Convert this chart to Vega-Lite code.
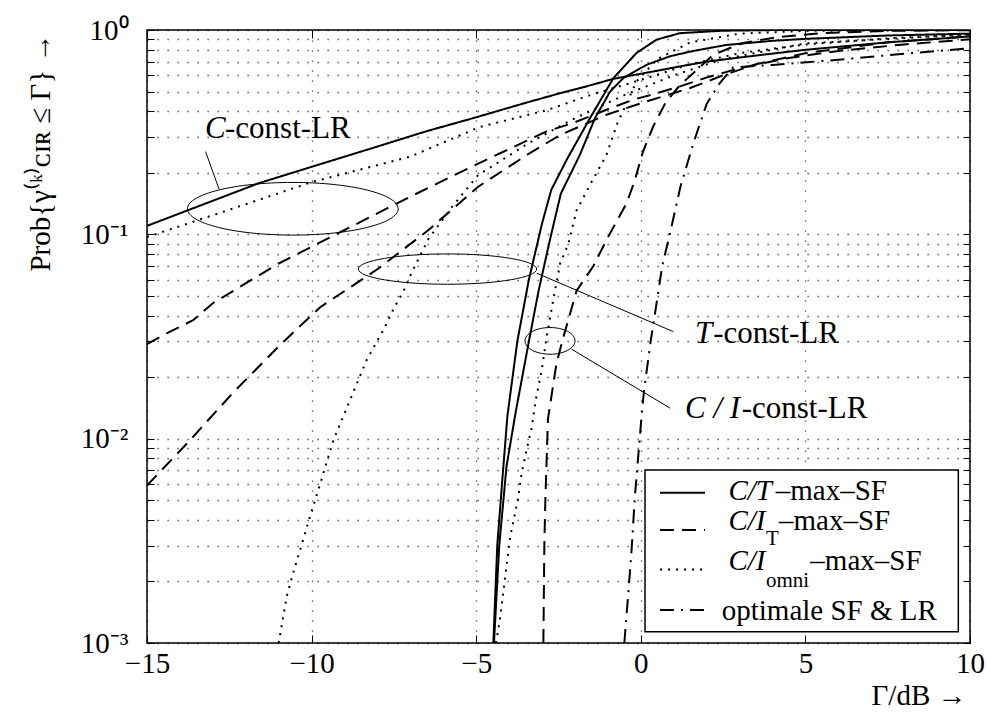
{
  "$schema": "https://vega.github.io/schema/vega-lite/v6.json",
  "width": 823,
  "height": 613,
  "autosize": {"type": "none"},
  "padding": {"left": 147, "top": 30, "right": 18, "bottom": 75},
  "background": "white",
  "config": {
    "view": {"stroke": "black", "strokeWidth": 1.5},
    "font": "Liberation Serif"
  },
  "resolve": {"axis": {"x": "independent", "y": "independent"}},
  "datasets": {
    "curves": [
      {"c": "S1", "sf": "C/T", "x": -15, "y": 0.110}, {"c": "S1", "sf": "C/T", "x": -13, "y": 0.146}, {"c": "S1", "sf": "C/T", "x": -11.6, "y": 0.178}, {"c": "S1", "sf": "C/T", "x": -10, "y": 0.214}, {"c": "S1", "sf": "C/T", "x": -8, "y": 0.269}, {"c": "S1", "sf": "C/T", "x": -6.5, "y": 0.32}, {"c": "S1", "sf": "C/T", "x": -5.1, "y": 0.37}, {"c": "S1", "sf": "C/T", "x": -3.5, "y": 0.44}, {"c": "S1", "sf": "C/T", "x": -2.5, "y": 0.488}, {"c": "S1", "sf": "C/T", "x": -1.5, "y": 0.538}, {"c": "S1", "sf": "C/T", "x": -0.83, "y": 0.577}, {"c": "S1", "sf": "C/T", "x": 0.5, "y": 0.632}, {"c": "S1", "sf": "C/T", "x": 1.2, "y": 0.664}, {"c": "S1", "sf": "C/T", "x": 2.0, "y": 0.70}, {"c": "S1", "sf": "C/T", "x": 3.5, "y": 0.75}, {"c": "S1", "sf": "C/T", "x": 5.0, "y": 0.80}, {"c": "S1", "sf": "C/T", "x": 7.5, "y": 0.87}, {"c": "S1", "sf": "C/T", "x": 10, "y": 0.93},
      {"c": "S2", "sf": "C/T", "x": -4.48, "y": 0.001}, {"c": "S2", "sf": "C/T", "x": -4.36, "y": 0.003}, {"c": "S2", "sf": "C/T", "x": -4.2, "y": 0.0065}, {"c": "S2", "sf": "C/T", "x": -4.05, "y": 0.013}, {"c": "S2", "sf": "C/T", "x": -3.75, "y": 0.03}, {"c": "S2", "sf": "C/T", "x": -3.4, "y": 0.06}, {"c": "S2", "sf": "C/T", "x": -3.0, "y": 0.113}, {"c": "S2", "sf": "C/T", "x": -2.72, "y": 0.165}, {"c": "S2", "sf": "C/T", "x": -2.25, "y": 0.232}, {"c": "S2", "sf": "C/T", "x": -1.54, "y": 0.371}, {"c": "S2", "sf": "C/T", "x": -0.83, "y": 0.582}, {"c": "S2", "sf": "C/T", "x": -0.13, "y": 0.772}, {"c": "S2", "sf": "C/T", "x": 0.48, "y": 0.897}, {"c": "S2", "sf": "C/T", "x": 1.19, "y": 0.965}, {"c": "S2", "sf": "C/T", "x": 2.5, "y": 0.992}, {"c": "S2", "sf": "C/T", "x": 4, "y": 0.999}, {"c": "S2", "sf": "C/T", "x": 10, "y": 1.0},
      {"c": "S3", "sf": "C/T", "x": -4.46, "y": 0.001}, {"c": "S3", "sf": "C/T", "x": -4.3, "y": 0.003}, {"c": "S3", "sf": "C/T", "x": -4.08, "y": 0.0073}, {"c": "S3", "sf": "C/T", "x": -3.8, "y": 0.0135}, {"c": "S3", "sf": "C/T", "x": -3.39, "y": 0.0305}, {"c": "S3", "sf": "C/T", "x": -3.1, "y": 0.0534}, {"c": "S3", "sf": "C/T", "x": -2.76, "y": 0.094}, {"c": "S3", "sf": "C/T", "x": -2.43, "y": 0.158}, {"c": "S3", "sf": "C/T", "x": -1.85, "y": 0.245}, {"c": "S3", "sf": "C/T", "x": -1.39, "y": 0.371}, {"c": "S3", "sf": "C/T", "x": -0.93, "y": 0.50}, {"c": "S3", "sf": "C/T", "x": -0.53, "y": 0.582}, {"c": "S3", "sf": "C/T", "x": 0.18, "y": 0.676}, {"c": "S3", "sf": "C/T", "x": 0.9, "y": 0.745}, {"c": "S3", "sf": "C/T", "x": 1.6, "y": 0.79}, {"c": "S3", "sf": "C/T", "x": 2.6, "y": 0.845}, {"c": "S3", "sf": "C/T", "x": 4, "y": 0.885}, {"c": "S3", "sf": "C/T", "x": 5, "y": 0.905}, {"c": "S3", "sf": "C/T", "x": 7.5, "y": 0.94}, {"c": "S3", "sf": "C/T", "x": 10, "y": 0.96},
      {"c": "D1", "sf": "C/I_omni", "x": -15, "y": 0.097}, {"c": "D1", "sf": "C/I_omni", "x": -13, "y": 0.124}, {"c": "D1", "sf": "C/I_omni", "x": -10, "y": 0.18}, {"c": "D1", "sf": "C/I_omni", "x": -7, "y": 0.24}, {"c": "D1", "sf": "C/I_omni", "x": -4.9, "y": 0.335}, {"c": "D1", "sf": "C/I_omni", "x": -2.86, "y": 0.405}, {"c": "D1", "sf": "C/I_omni", "x": -1.54, "y": 0.48}, {"c": "D1", "sf": "C/I_omni", "x": 0, "y": 0.57}, {"c": "D1", "sf": "C/I_omni", "x": 1.5, "y": 0.68}, {"c": "D1", "sf": "C/I_omni", "x": 3, "y": 0.77}, {"c": "D1", "sf": "C/I_omni", "x": 5, "y": 0.85}, {"c": "D1", "sf": "C/I_omni", "x": 7.5, "y": 0.91}, {"c": "D1", "sf": "C/I_omni", "x": 10, "y": 0.95},
      {"c": "D2", "sf": "C/I_omni", "x": -11.0, "y": 0.001}, {"c": "D2", "sf": "C/I_omni", "x": -10.76, "y": 0.00168}, {"c": "D2", "sf": "C/I_omni", "x": -10.56, "y": 0.0022}, {"c": "D2", "sf": "C/I_omni", "x": -10.35, "y": 0.00285}, {"c": "D2", "sf": "C/I_omni", "x": -10.05, "y": 0.00415}, {"c": "D2", "sf": "C/I_omni", "x": -9.74, "y": 0.006}, {"c": "D2", "sf": "C/I_omni", "x": -9.34, "y": 0.0098}, {"c": "D2", "sf": "C/I_omni", "x": -8.83, "y": 0.0155}, {"c": "D2", "sf": "C/I_omni", "x": -8.33, "y": 0.0242}, {"c": "D2", "sf": "C/I_omni", "x": -7.82, "y": 0.034}, {"c": "D2", "sf": "C/I_omni", "x": -7.5, "y": 0.0435}, {"c": "D2", "sf": "C/I_omni", "x": -7.2, "y": 0.053}, {"c": "D2", "sf": "C/I_omni", "x": -6.96, "y": 0.065}, {"c": "D2", "sf": "C/I_omni", "x": -6.45, "y": 0.095}, {"c": "D2", "sf": "C/I_omni", "x": -5.74, "y": 0.136}, {"c": "D2", "sf": "C/I_omni", "x": -4.94, "y": 0.195}, {"c": "D2", "sf": "C/I_omni", "x": -3.4, "y": 0.28}, {"c": "D2", "sf": "C/I_omni", "x": -2, "y": 0.37}, {"c": "D2", "sf": "C/I_omni", "x": -0.5, "y": 0.48}, {"c": "D2", "sf": "C/I_omni", "x": 1, "y": 0.6}, {"c": "D2", "sf": "C/I_omni", "x": 2.5, "y": 0.72}, {"c": "D2", "sf": "C/I_omni", "x": 5, "y": 0.86}, {"c": "D2", "sf": "C/I_omni", "x": 10, "y": 0.95},
      {"c": "D3", "sf": "C/I_omni", "x": -4.4, "y": 0.001}, {"c": "D3", "sf": "C/I_omni", "x": -4.28, "y": 0.0013}, {"c": "D3", "sf": "C/I_omni", "x": -4.18, "y": 0.00175}, {"c": "D3", "sf": "C/I_omni", "x": -4.07, "y": 0.00245}, {"c": "D3", "sf": "C/I_omni", "x": -3.97, "y": 0.0033}, {"c": "D3", "sf": "C/I_omni", "x": -3.82, "y": 0.0043}, {"c": "D3", "sf": "C/I_omni", "x": -3.72, "y": 0.0052}, {"c": "D3", "sf": "C/I_omni", "x": -3.62, "y": 0.0068}, {"c": "D3", "sf": "C/I_omni", "x": -3.47, "y": 0.0088}, {"c": "D3", "sf": "C/I_omni", "x": -3.31, "y": 0.0114}, {"c": "D3", "sf": "C/I_omni", "x": -3.19, "y": 0.0155}, {"c": "D3", "sf": "C/I_omni", "x": -3.01, "y": 0.0217}, {"c": "D3", "sf": "C/I_omni", "x": -2.86, "y": 0.0315}, {"c": "D3", "sf": "C/I_omni", "x": -2.66, "y": 0.0477}, {"c": "D3", "sf": "C/I_omni", "x": -2.45, "y": 0.072}, {"c": "D3", "sf": "C/I_omni", "x": -2.2, "y": 0.09}, {"c": "D3", "sf": "C/I_omni", "x": -1.95, "y": 0.131}, {"c": "D3", "sf": "C/I_omni", "x": -1.54, "y": 0.175}, {"c": "D3", "sf": "C/I_omni", "x": -1.04, "y": 0.245}, {"c": "D3", "sf": "C/I_omni", "x": -0.73, "y": 0.344}, {"c": "D3", "sf": "C/I_omni", "x": -0.13, "y": 0.56}, {"c": "D3", "sf": "C/I_omni", "x": 0.5, "y": 0.72}, {"c": "D3", "sf": "C/I_omni", "x": 1.5, "y": 0.87}, {"c": "D3", "sf": "C/I_omni", "x": 3, "y": 0.96}, {"c": "D3", "sf": "C/I_omni", "x": 5, "y": 0.99}, {"c": "D3", "sf": "C/I_omni", "x": 10, "y": 1.0},
      {"c": "H1", "sf": "C/I_T", "x": -15, "y": 0.029}, {"c": "H1", "sf": "C/I_T", "x": -14.3, "y": 0.0334}, {"c": "H1", "sf": "C/I_T", "x": -13.6, "y": 0.038}, {"c": "H1", "sf": "C/I_T", "x": -13.0, "y": 0.046}, {"c": "H1", "sf": "C/I_T", "x": -11.0, "y": 0.072}, {"c": "H1", "sf": "C/I_T", "x": -9.0, "y": 0.105}, {"c": "H1", "sf": "C/I_T", "x": -7.0, "y": 0.153}, {"c": "H1", "sf": "C/I_T", "x": -4.94, "y": 0.222}, {"c": "H1", "sf": "C/I_T", "x": -2.86, "y": 0.319}, {"c": "H1", "sf": "C/I_T", "x": -2.05, "y": 0.351}, {"c": "H1", "sf": "C/I_T", "x": -1.04, "y": 0.407}, {"c": "H1", "sf": "C/I_T", "x": -0.23, "y": 0.456}, {"c": "H1", "sf": "C/I_T", "x": 0.48, "y": 0.49}, {"c": "H1", "sf": "C/I_T", "x": 1.19, "y": 0.53}, {"c": "H1", "sf": "C/I_T", "x": 2, "y": 0.585}, {"c": "H1", "sf": "C/I_T", "x": 3, "y": 0.65}, {"c": "H1", "sf": "C/I_T", "x": 4.5, "y": 0.73}, {"c": "H1", "sf": "C/I_T", "x": 6, "y": 0.79}, {"c": "H1", "sf": "C/I_T", "x": 8, "y": 0.85}, {"c": "H1", "sf": "C/I_T", "x": 10, "y": 0.9},
      {"c": "H2", "sf": "C/I_T", "x": -15, "y": 0.0059}, {"c": "H2", "sf": "C/I_T", "x": -13.7, "y": 0.0098}, {"c": "H2", "sf": "C/I_T", "x": -12.4, "y": 0.0167}, {"c": "H2", "sf": "C/I_T", "x": -10.96, "y": 0.0287}, {"c": "H2", "sf": "C/I_T", "x": -9.74, "y": 0.044}, {"c": "H2", "sf": "C/I_T", "x": -7.97, "y": 0.068}, {"c": "H2", "sf": "C/I_T", "x": -6.45, "y": 0.105}, {"c": "H2", "sf": "C/I_T", "x": -4.94, "y": 0.171}, {"c": "H2", "sf": "C/I_T", "x": -3.37, "y": 0.25}, {"c": "H2", "sf": "C/I_T", "x": -2.45, "y": 0.306}, {"c": "H2", "sf": "C/I_T", "x": -1.04, "y": 0.385}, {"c": "H2", "sf": "C/I_T", "x": -0.13, "y": 0.431}, {"c": "H2", "sf": "C/I_T", "x": 0.68, "y": 0.474}, {"c": "H2", "sf": "C/I_T", "x": 1.5, "y": 0.52}, {"c": "H2", "sf": "C/I_T", "x": 2.5, "y": 0.6}, {"c": "H2", "sf": "C/I_T", "x": 3.5, "y": 0.68}, {"c": "H2", "sf": "C/I_T", "x": 5, "y": 0.77}, {"c": "H2", "sf": "C/I_T", "x": 7.5, "y": 0.87}, {"c": "H2", "sf": "C/I_T", "x": 10, "y": 0.93},
      {"c": "H3", "sf": "C/I_T", "x": -2.96, "y": 0.001}, {"c": "H3", "sf": "C/I_T", "x": -2.93, "y": 0.003}, {"c": "H3", "sf": "C/I_T", "x": -2.9, "y": 0.005}, {"c": "H3", "sf": "C/I_T", "x": -2.82, "y": 0.0125}, {"c": "H3", "sf": "C/I_T", "x": -2.56, "y": 0.0234}, {"c": "H3", "sf": "C/I_T", "x": -2.35, "y": 0.0315}, {"c": "H3", "sf": "C/I_T", "x": -1.95, "y": 0.053}, {"c": "H3", "sf": "C/I_T", "x": -1.44, "y": 0.07}, {"c": "H3", "sf": "C/I_T", "x": -1.04, "y": 0.094}, {"c": "H3", "sf": "C/I_T", "x": -0.43, "y": 0.142}, {"c": "H3", "sf": "C/I_T", "x": -0.2, "y": 0.18}, {"c": "H3", "sf": "C/I_T", "x": 0.07, "y": 0.255}, {"c": "H3", "sf": "C/I_T", "x": 0.38, "y": 0.338}, {"c": "H3", "sf": "C/I_T", "x": 0.75, "y": 0.44}, {"c": "H3", "sf": "C/I_T", "x": 1.2, "y": 0.54}, {"c": "H3", "sf": "C/I_T", "x": 1.6, "y": 0.616}, {"c": "H3", "sf": "C/I_T", "x": 2.2, "y": 0.757}, {"c": "H3", "sf": "C/I_T", "x": 3.1, "y": 0.864}, {"c": "H3", "sf": "C/I_T", "x": 4.1, "y": 0.92}, {"c": "H3", "sf": "C/I_T", "x": 5.5, "y": 0.965}, {"c": "H3", "sf": "C/I_T", "x": 7.5, "y": 0.99}, {"c": "H3", "sf": "C/I_T", "x": 10, "y": 0.998},
      {"c": "O", "sf": "opt", "x": -0.5, "y": 0.001}, {"c": "O", "sf": "opt", "x": -0.38, "y": 0.00175}, {"c": "O", "sf": "opt", "x": -0.28, "y": 0.00285}, {"c": "O", "sf": "opt", "x": -0.18, "y": 0.0052}, {"c": "O", "sf": "opt", "x": -0.07, "y": 0.0085}, {"c": "O", "sf": "opt", "x": 0.03, "y": 0.0133}, {"c": "O", "sf": "opt", "x": 0.1, "y": 0.0173}, {"c": "O", "sf": "opt", "x": 0.3, "y": 0.030}, {"c": "O", "sf": "opt", "x": 0.47, "y": 0.045}, {"c": "O", "sf": "opt", "x": 0.65, "y": 0.07}, {"c": "O", "sf": "opt", "x": 0.88, "y": 0.1}, {"c": "O", "sf": "opt", "x": 1.2, "y": 0.17}, {"c": "O", "sf": "opt", "x": 1.6, "y": 0.28}, {"c": "O", "sf": "opt", "x": 2.0, "y": 0.435}, {"c": "O", "sf": "opt", "x": 2.4, "y": 0.55}, {"c": "O", "sf": "opt", "x": 2.8, "y": 0.655}, {"c": "O", "sf": "opt", "x": 4, "y": 0.675}, {"c": "O", "sf": "opt", "x": 6, "y": 0.715}, {"c": "O", "sf": "opt", "x": 8, "y": 0.765}, {"c": "O", "sf": "opt", "x": 10, "y": 0.814}
    ],
    "leaders": [
      {"x": -12.81, "y": 0.166, "x2": -13.22, "y2": 0.254},
      {"x": -3.16, "y": 0.0645, "x2": 0.99, "y2": 0.0334},
      {"x": -2.1, "y": 0.0274, "x2": 0.89, "y2": 0.0141}
    ],
    "annItalic": [
      {"x": -13.238, "y": 0.295, "t": "C"},
      {"x": 1.646, "y": 0.02927, "t": "T"},
      {"x": 1.343, "y": 0.01261, "t": "C / I"}
    ],
    "annRoman": [
      {"x": -12.631, "y": 0.295, "t": "-const-LR"},
      {"x": 2.2, "y": 0.02927, "t": "-const-LR"},
      {"x": 3.065, "y": 0.01261, "t": "-const-LR"}
    ],
    "legBox": [{"x": 0.128, "x2": 9.645, "y": 0.001135, "y2": 0.00702}],
    "legLines": [
      {"sf": "C/T", "x": 0.583, "x2": 1.95, "y": 0.00543},
      {"sf": "C/I_T", "x": 0.583, "x2": 1.95, "y": 0.003571},
      {"sf": "C/I_omni", "x": 0.583, "x2": 1.95, "y": 0.002291},
      {"sf": "opt", "x": 0.583, "x2": 1.95, "y": 0.001449}
    ],
    "legItalic": [
      {"x": 2.662, "y": 0.005005, "t": "C/T"},
      {"x": 2.662, "y": 0.003571, "t": "C/I"},
      {"x": 2.662, "y": 0.002275, "t": "C/I"}
    ],
    "legRoman": [
      {"x": 4.1, "y": 0.005005, "t": "–max–SF"},
      {"x": 4.2, "y": 0.003571, "t": "–max–SF"},
      {"x": 5.15, "y": 0.002275, "t": "–max–SF"},
      {"x": 2.458, "y": 0.001294, "t": "optimale SF & LR"}
    ],
    "legSub": [
      {"x": 3.8, "y": 0.003013, "t": "T"},
      {"x": 3.8, "y": 0.001884, "t": "omni"}
    ]
  },
  "layer": [
    {
      "data": {"name": "curves"},
      "mark": {"type": "line", "color": "black", "strokeWidth": 2, "clip": true},
      "encoding": {
        "x": {
          "field": "x", "type": "quantitative",
          "scale": {"domain": [-15, 10], "nice": false, "zero": false},
          "axis": {
            "values": [-15, -10, -5, 0, 5, 10],
            "grid": true, "gridDash": [1.3, 8.7], "gridColor": "#000", "gridOpacity": 0.75, "gridWidth": 1.3,
            "domain": false,
            "ticks": true, "tickSize": -8, "tickColor": "black", "tickWidth": 1,
            "labelFlush": false,
            "labelFont": "Liberation Serif", "labelFontSize": 29, "labelColor": "black", "labelPadding": 14,
            "title": "Γ/dB →", "titleFont": "Liberation Serif", "titleFontSize": 29, "titleFontWeight": "normal", "titleColor": "black",
            "titleX": 819, "titleY": 52, "titleAlign": "right", "titleBaseline": "middle", "titleAnchor": "end"
          }
        },
        "y": {
          "field": "y", "type": "quantitative",
          "scale": {"type": "log", "domain": [0.001, 1], "nice": false},
          "axis": {
            "values": [0.001, 0.002, 0.003, 0.004, 0.005, 0.006, 0.007, 0.008, 0.009, 0.01, 0.02, 0.03, 0.04, 0.05, 0.06, 0.07, 0.08, 0.09, 0.1, 0.2, 0.3, 0.4, 0.5, 0.6, 0.7, 0.8, 0.9, 1],
            "labelExpr": "datum.value == 1 ? '10⁰' : datum.value == 0.1 ? '10⁻¹' : datum.value == 0.01 ? '10⁻²' : datum.value == 0.001 ? '10⁻³' : ''",
            "grid": true, "gridDash": [1.3, 8.7], "gridColor": "#000", "gridOpacity": 0.75, "gridWidth": 1.3,
            "domain": false,
            "ticks": true, "tickSize": -7, "tickColor": "black", "tickWidth": 1,
            "labelFlush": false,
            "labelFont": "Liberation Serif", "labelFontSize": 29, "labelColor": "black", "labelPadding": 26,
            "labelOverlap": false,
            "title": "Prob{γ⁽ᵏ⁾ᴄɪʀ ≤ Γ} →", "titleFont": "Liberation Serif", "titleFontSize": 29, "titleFontWeight": "normal", "titleColor": "black",
            "titleX": -107, "titleY": 3, "titleAngle": 270, "titleAlign": "right", "titleBaseline": "middle"
          }
        },
        "detail": {"field": "c"},
        "strokeDash": {
          "field": "sf", "type": "nominal", "legend": null,
          "scale": {"domain": ["C/T", "C/I_T", "C/I_omni", "opt"], "range": [[1, 0], [14, 8], [2, 6], [14, 7, 2, 7]]}
        }
      }
    },
    {
      "data": {"values": [{"x": -10.57, "y": 0.1334}]},
      "mark": {"type": "point", "shape": "M-1,0A1,0.25,0,1,0,1,0A1,0.25,0,1,0,-1,0", "size": 44394, "filled": false, "stroke": "black", "strokeWidth": 1, "opacity": 1},
      "encoding": {
        "x": {"field": "x", "type": "quantitative", "axis": {"orient": "top", "values": [-15, -10, -5, 0, 5, 10], "labels": false, "grid": false, "domain": false, "ticks": true, "tickSize": -8, "tickColor": "black", "title": null}},
        "y": {"field": "y", "type": "quantitative", "axis": {"orient": "right", "values": [0.001, 0.002, 0.003, 0.004, 0.005, 0.006, 0.007, 0.008, 0.009, 0.01, 0.02, 0.03, 0.04, 0.05, 0.06, 0.07, 0.08, 0.09, 0.1, 0.2, 0.3, 0.4, 0.5, 0.6, 0.7, 0.8, 0.9, 1], "labels": false, "grid": false, "domain": false, "ticks": true, "tickSize": -7, "tickColor": "black", "title": null}}
      }
    },
    {
      "data": {"values": [{"x": -5.872, "y": 0.0676}]},
      "mark": {"type": "point", "shape": "M-1,0A1,0.17,0,1,0,1,0A1,0.17,0,1,0,-1,0", "size": 31791, "filled": false, "stroke": "black", "strokeWidth": 1, "opacity": 1},
      "encoding": {
        "x": {"field": "x", "type": "quantitative", "axis": null},
        "y": {"field": "y", "type": "quantitative", "axis": null}
      }
    },
    {
      "data": {"values": [{"x": -2.758, "y": 0.0301}]},
      "mark": {"type": "point", "shape": "M-1,0A1,0.534,0,1,0,1,0A1,0.534,0,1,0,-1,0", "size": 2500, "filled": false, "stroke": "black", "strokeWidth": 1, "opacity": 1},
      "encoding": {
        "x": {"field": "x", "type": "quantitative", "axis": null},
        "y": {"field": "y", "type": "quantitative", "axis": null}
      }
    },
    {
      "data": {"name": "leaders"},
      "mark": {"type": "rule", "color": "black", "strokeWidth": 1},
      "encoding": {
        "x": {"field": "x", "type": "quantitative", "axis": null},
        "y": {"field": "y", "type": "quantitative", "axis": null},
        "x2": {"field": "x2"},
        "y2": {"field": "y2"}
      }
    },
    {
      "data": {"name": "annItalic"},
      "mark": {"type": "text", "font": "Liberation Serif", "fontStyle": "italic", "fontSize": 31, "align": "left", "baseline": "alphabetic", "color": "black"},
      "encoding": {
        "x": {"field": "x", "type": "quantitative", "axis": null},
        "y": {"field": "y", "type": "quantitative", "axis": null},
        "text": {"field": "t"}
      }
    },
    {
      "data": {"name": "annRoman"},
      "mark": {"type": "text", "font": "Liberation Serif", "fontSize": 31, "align": "left", "baseline": "alphabetic", "color": "black"},
      "encoding": {
        "x": {"field": "x", "type": "quantitative", "axis": null},
        "y": {"field": "y", "type": "quantitative", "axis": null},
        "text": {"field": "t"}
      }
    },
    {
      "data": {"name": "legBox"},
      "mark": {"type": "rect", "fill": "white", "stroke": "black", "strokeWidth": 1.5},
      "encoding": {
        "x": {"field": "x", "type": "quantitative", "axis": null},
        "x2": {"field": "x2"},
        "y": {"field": "y", "type": "quantitative", "axis": null},
        "y2": {"field": "y2"}
      }
    },
    {
      "data": {"name": "legLines"},
      "mark": {"type": "rule", "color": "black", "strokeWidth": 2},
      "encoding": {
        "x": {"field": "x", "type": "quantitative", "axis": null},
        "x2": {"field": "x2"},
        "y": {"field": "y", "type": "quantitative", "axis": null},
        "strokeDash": {"field": "sf", "type": "nominal", "legend": null}
      }
    },
    {
      "data": {"name": "legItalic"},
      "mark": {"type": "text", "font": "Liberation Serif", "fontStyle": "italic", "fontSize": 29, "align": "left", "baseline": "alphabetic", "color": "black"},
      "encoding": {
        "x": {"field": "x", "type": "quantitative", "axis": null},
        "y": {"field": "y", "type": "quantitative", "axis": null},
        "text": {"field": "t"}
      }
    },
    {
      "data": {"name": "legRoman"},
      "mark": {"type": "text", "font": "Liberation Serif", "fontSize": 29, "align": "left", "baseline": "alphabetic", "color": "black"},
      "encoding": {
        "x": {"field": "x", "type": "quantitative", "axis": null},
        "y": {"field": "y", "type": "quantitative", "axis": null},
        "text": {"field": "t"}
      }
    },
    {
      "data": {"name": "legSub"},
      "mark": {"type": "text", "font": "Liberation Serif", "fontSize": 21, "align": "left", "baseline": "alphabetic", "color": "black"},
      "encoding": {
        "x": {"field": "x", "type": "quantitative", "axis": null},
        "y": {"field": "y", "type": "quantitative", "axis": null},
        "text": {"field": "t"}
      }
    }
  ]
}
